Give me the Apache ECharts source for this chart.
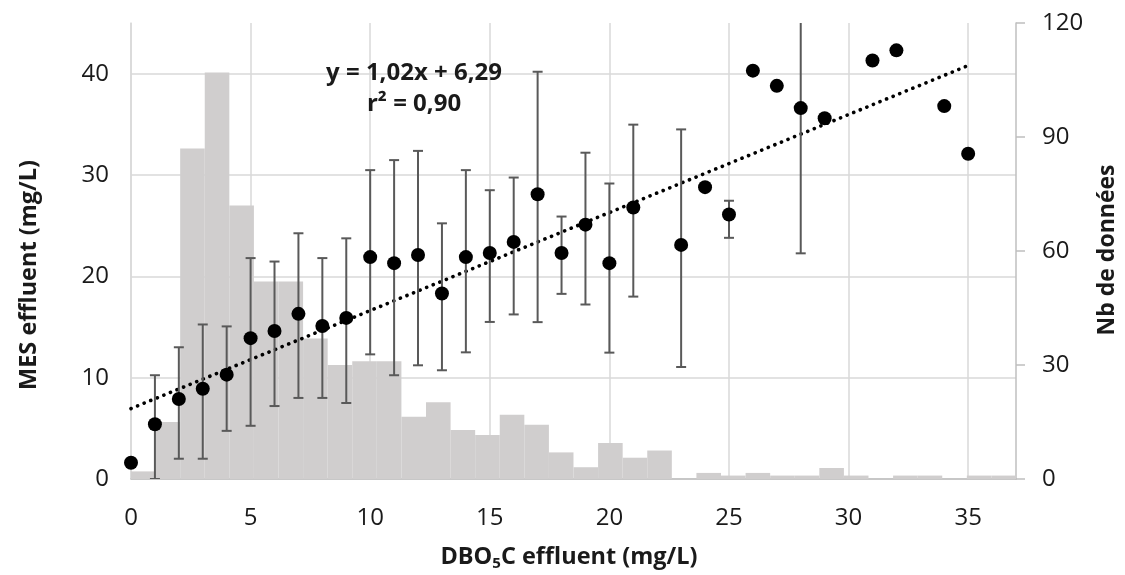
<!DOCTYPE html>
<html>
<head>
<meta charset="utf-8">
<script src="https://cdn.jsdelivr.net/npm/echarts@6/dist/echarts.min.js"></script>
<style>html,body{margin:0;padding:0;background:#fff;}#c{width:1125px;height:575px;}</style>
</head>
<body>
<div id="c"></div>
<script>
// DBO5C classes (mg/L) with mean MES effluent and error bar bounds
const dboX    = [0, 1, 2, 3, 4, 5, 6, 7, 8, 9, 10, 11, 12, 13, 14, 15, 16, 17, 18, 19, 20, 21, 23, 24, 25, 26, 27, 28, 29, 31, 32, 34, 35];
const mesMean = [1.6, 5.4, 7.9, 8.9, 10.3, 13.9, 14.6, 16.3, 15.1, 15.9, 21.9, 21.3, 22.1, 18.3, 21.9, 22.3, 23.4, 28.1, 22.3, 25.1, 21.3, 26.8, 23.1, 28.8, 26.1, 40.3, 38.8, 36.6, 35.6, 41.3, 42.3, 36.8, 32.1];
const mesLow  = [1.2, 0, 2.0, 2.0, 4.75, 5.25, 7.2, 8.0, 8.0, 7.5, 12.3, 10.24, 11.22, 10.73, 12.5, 15.5, 16.24, 15.48, 18.27, 17.22, 12.47, 18.0, 11.05, null, 23.8, null, null, 22.27, null, null, null, null, null];
const mesHigh = [2.0, 10.24, 13.0, 15.25, 15.06, 21.8, 21.46, 24.25, 21.8, 23.75, 30.48, 31.47, 32.38, 25.23, 30.48, 28.5, 29.75, 40.19, 25.9, 32.2, 29.16, 34.97, 34.5, null, 27.46, null, null, 50.9, null, null, null, null, null];
// Histogram: number of data per class (36 classes)
const histBins   = ['0','1','2','3','4','5','6','7','8','9','10','11','12','13','14','15','16','17','18','19','20','21','22','23','24','25','26','27','28','29','30','31','32','33','34','35'];
const histCounts = [2, 15, 87, 107, 72, 52, 52, 37, 30, 31, 31, 16.4, 20.2, 12.9, 11.6, 16.9, 14.3, 7, 3.1, 9.5, 5.6, 7.5, 0, 1.6, 0.9, 1.6, 0.9, 0.9, 2.9, 0.9, 0, 0.9, 0.9, 0, 0.9, 0.9];
// Trend line endpoints as drawn
const trendX = [0, 35];
const trendY = [6.95, 40.8];
const eqText = 'y = 1,02x + 6,29';
const r2Text = 'r² = 0,90';
const xTitle = '{a|DBO}{s|5}{a|C effluent (mg/L)}';
const yLeftTitle = 'MES effluent (mg/L)';
const yRightTitle = 'Nb de données';

const scatterData = dboX.map((x, i) => [x, mesMean[i]]);
const errData = [];
dboX.forEach((x, i) => { if (mesLow[i] != null) errData.push([x, mesLow[i], mesHigh[i]]); });
const trendData = trendX.map((x, i) => [x, trendY[i]]);

const FONT = '"Open Sans", "Liberation Sans", sans-serif';
const TXT = '#1a1a1a';
const chart = echarts.init(document.getElementById('c'), null, {renderer: 'canvas'});
chart.setOption({
  animation: false,
  backgroundColor: '#ffffff',
  grid: {left: 131, right: 109, top: 23, bottom: 96, containLabel: false},
  xAxis: [
    {
      type: 'value', min: 0, max: 37, interval: 5,
      axisLine: {show: true, lineStyle: {color: '#bfbfbf', width: 1.5}},
      axisTick: {show: false},
      axisLabel: {fontFamily: FONT, fontSize: 24, color: TXT, margin: 27, showMaxLabel: false},
      splitLine: {show: true, showMaxLine: false, lineStyle: {color: '#d9d9d9', width: 1.5}}
    },
    {
      type: 'category', data: histBins, boundaryGap: true, show: false,
      axisLine: {show: false}, axisTick: {show: false}, axisLabel: {show: false}, splitLine: {show: false}
    }
  ],
  yAxis: [
    {
      type: 'value', min: 0, max: 45, interval: 10, position: 'left',
      axisLine: {show: true, lineStyle: {color: '#d9d9d9', width: 1.5}},
      axisTick: {show: false},
      axisLabel: {fontFamily: FONT, fontSize: 24, color: TXT, margin: 22, showMaxLabel: false},
      splitLine: {show: true, showMaxLine: false, lineStyle: {color: '#d9d9d9', width: 1.5}}
    },
    {
      type: 'value', min: 0, max: 120, interval: 30, position: 'right',
      axisLine: {show: true, lineStyle: {color: '#bfbfbf', width: 1.5}},
      axisTick: {show: true, inside: false, length: 9, lineStyle: {color: '#bfbfbf', width: 1.5}},
      axisLabel: {fontFamily: FONT, fontSize: 24, color: TXT, margin: 26},
      splitLine: {show: false}
    }
  ],
  series: [
    {
      type: 'bar', xAxisIndex: 1, yAxisIndex: 1, data: histCounts,
      barCategoryGap: '0%', barGap: '0%',
      itemStyle: {color: '#d0cece'}, z: 1, silent: true
    },
    {
      type: 'line', xAxisIndex: 0, yAxisIndex: 0, data: trendData,
      showSymbol: false, symbol: 'none',
      lineStyle: {color: '#000', width: 3.6, type: [0.1, 7], cap: 'round'}, z: 3, silent: true
    },
    {
      type: 'custom', xAxisIndex: 0, yAxisIndex: 0, data: errData, clip: true, z: 4,
      encode: {x: 0, y: [1, 2]},
      renderItem: function (params, api) {
        const x = api.value(0), lo = api.value(1), hi = api.value(2);
        const pLo = api.coord([x, lo]), pHi = api.coord([x, hi]);
        const cap = 5;
        const st = {stroke: '#595959', lineWidth: 2};
        return {
          type: 'group',
          children: [
            {type: 'line', shape: {x1: pLo[0], y1: pLo[1], x2: pHi[0], y2: pHi[1]}, style: st},
            {type: 'line', shape: {x1: pLo[0] - cap, y1: pLo[1], x2: pLo[0] + cap, y2: pLo[1]}, style: st},
            {type: 'line', shape: {x1: pHi[0] - cap, y1: pHi[1], x2: pHi[0] + cap, y2: pHi[1]}, style: st}
          ]
        };
      }
    },
    {
      type: 'scatter', xAxisIndex: 0, yAxisIndex: 0, data: scatterData,
      symbol: 'circle', symbolSize: 14, itemStyle: {color: '#000', opacity: 1}, z: 5
    }
  ],
  graphic: [
    {type: 'text', x: 414, y: 73, z: 10, style: {text: eqText, fontFamily: FONT, fontSize: 24, fontWeight: 'bold', fill: TXT, align: 'center', verticalAlign: 'middle'}},
    {type: 'text', x: 414, y: 104, z: 10, style: {text: r2Text, fontFamily: FONT, fontSize: 24, fontWeight: 'bold', fill: TXT, align: 'center', verticalAlign: 'middle'}},
    {type: 'text', x: 569, y: 557, z: 10, style: {text: xTitle, align: 'center', verticalAlign: 'middle',
      rich: {
        a: {fontFamily: FONT, fontSize: 23.5, fontWeight: 'bold', fill: TXT, lineHeight: 28},
        s: {fontFamily: FONT, fontSize: 15, fontWeight: 'bold', fill: TXT, lineHeight: 15, verticalAlign: 'bottom', padding: [11, 0, 0, 0]}
      }}},
    {type: 'text', x: 29, y: 275, rotation: Math.PI / 2, z: 10, style: {text: yLeftTitle, fontFamily: FONT, fontSize: 23.5, fontWeight: 'bold', fill: TXT, align: 'center', verticalAlign: 'middle'}},
    {type: 'text', x: 1107, y: 250, rotation: Math.PI / 2, z: 10, style: {text: yRightTitle, fontFamily: FONT, fontSize: 23, fontWeight: 'bold', fill: TXT, align: 'center', verticalAlign: 'middle'}}
  ]
});
</script>
</body>
</html>
